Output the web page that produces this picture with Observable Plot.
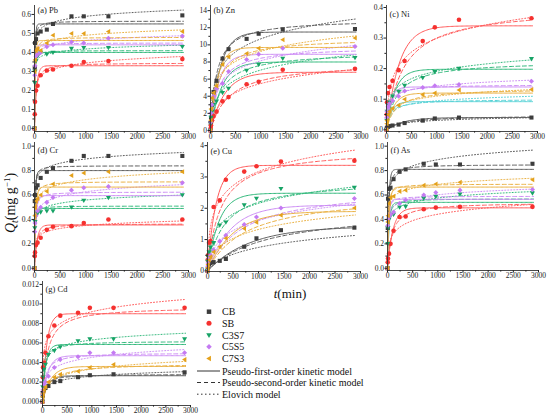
<!DOCTYPE html>
<html><head><meta charset="utf-8">
<script src="https://cdn.jsdelivr.net/npm/d3@7"></script>
<script src="https://cdn.jsdelivr.net/npm/@observablehq/plot@0.6"></script>
<style>
body{margin:0;background:#fff;}
#root{position:relative;width:550px;height:418px;overflow:hidden;background:#fff;font-family:"Liberation Serif",serif;}
#root svg{position:absolute;font-family:"Liberation Serif",serif;}
#root svg text{font-family:"Liberation Serif",serif;}
</style></head><body><div id="root"></div>
<script>
// ---------- data ----------
const times = [0, 5, 10, 30, 60, 120, 240, 360, 720, 960, 1440, 2880];
const seriesNames = ["CB", "SB", "C3S7", "C5S5", "C7S3"];
const xTicks = [0, 500, 1000, 1500, 2000, 2500, 3000];

// (a) Pb  measured Qt, rows: CB, SB, C3S7, C5S5, C7S3
const qPb = [
  [0, 0.32, 0.45, 0.47, 0.50, 0.51, 0.52, 0.55, 0.59, 0.59, 0.59, 0.595],
  [0, 0.075, 0.14, 0.20, 0.225, 0.28, 0.305, 0.31, 0.33, 0.35, 0.355, 0.365],
  [0, 0.24, 0.30, 0.355, 0.38, 0.40, 0.39, 0.40, 0.42, 0.425, 0.425, 0.43],
  [0, 0.28, 0.33, 0.38, 0.39, 0.40, 0.43, 0.44, 0.455, 0.45, 0.475, 0.486],
  [0, 0.30, 0.36, 0.41, 0.42, 0.41, 0.45, 0.49, 0.50, 0.50, 0.51, 0.51]
];
const pfoPb = [[0.55, 0.08], [0.33, 0.025], [0.40, 0.08], [0.44, 0.06], [0.463, 0.06]];
const psoPb = [[0.565, 0.35], [0.345, 0.116], [0.41, 0.49], [0.45, 0.37], [0.48, 0.26]];
const eloPb = [[6180, 32.4], [1.379, 30.96], [62270, 52.4], [8460, 42.55], [2889, 37.74]];

// (b) Zn
const qZn = [
  [0, 0.8, 1.5, 3.0, 4.5, 5.8, 8.4, 9.5, 10.7, 11.3, 11.8, 11.85],
  [0, 0.3, 0.6, 1.2, 1.7, 2.2, 3.4, 3.9, 5.4, 5.7, 7.1, 7.2],
  [0, 0.8, 1.5, 2.2, 3.0, 3.4, 4.4, 4.9, 7.0, 7.7, 8.4, 8.5],
  [0, 1.0, 2.0, 3.0, 4.0, 4.9, 5.5, 6.9, 8.3, 8.9, 9.6, 9.8],
  [0, 1.2, 2.5, 3.8, 4.4, 5.2, 7.7, 8.6, 9.0, 9.6, 10.6, 10.8]
];
const pfoZn = [[11.5, 0.0052], [6.8, 0.0035], [8.0, 0.0045], [8.9, 0.006], [9.7, 0.007]];
const psoZn = [[13.0, 6.4e-4], [8.0, 3.3e-4], [9.2, 5.2e-4], [9.8, 6.3e-4], [10.8, 6.2e-4]];
const eloZn = [[0.282, 0.4545], [0.0475, 0.625], [0.106, 0.588], [0.202, 0.588], [0.388, 0.588]];

// (c) Ni
const qNi = [
  [0, 0.004, 0.007, 0.010, 0.012, 0.014, 0.017, 0.022, 0.030, 0.037, 0.040, 0.040],
  [0, 0.05, 0.09, 0.12, 0.14, 0.16, 0.195, 0.225, 0.29, 0.335, 0.36, 0.365],
  [0, 0.03, 0.06, 0.08, 0.09, 0.11, 0.125, 0.145, 0.17, 0.19, 0.20, 0.232],
  [0, 0.04, 0.06, 0.075, 0.085, 0.095, 0.11, 0.127, 0.138, 0.144, 0.148, 0.159],
  [0, 0.02, 0.03, 0.05, 0.06, 0.07, 0.08, 0.10, 0.115, 0.12, 0.13, 0.132]
];
const pfoNi = [[0.04, 0.003], [0.34, 0.004], [0.198, 0.006], [0.14, 0.012], [0.12, 0.007]];
const psoNi = [[0.047, 0.06], [0.40, 0.0075], [0.225, 0.0207], [0.148, 0.11], [0.135, 0.04]];
const eloNi = [[0.000306, 117.6], [0.00641, 15.38], [0.0083, 28.57], [0.0517, 55.56], [0.0049, 50]];
// extra cyan model curves drawn in panel (c) without markers
const pfoNiExtra = [0.092, 0.01];
const psoNiExtra = [0.10, 0.107];
const eloNiExtra = [0.0121, 71.4];

// (d) Cr
const qCr = [
  [0, 0.55, 0.60, 0.66, 0.68, 0.74, 0.79, 0.82, 0.88, 0.92, 0.92, 0.92],
  [0, 0.10, 0.13, 0.19, 0.21, 0.25, 0.315, 0.34, 0.345, 0.37, 0.40, 0.40],
  [0, 0.33, 0.38, 0.43, 0.45, 0.46, 0.47, 0.47, 0.50, 0.555, 0.578, 0.60],
  [0, 0.30, 0.37, 0.43, 0.47, 0.50, 0.54, 0.58, 0.64, 0.66, 0.67, 0.70],
  [0, 0.43, 0.50, 0.55, 0.57, 0.60, 0.63, 0.69, 0.76, 0.78, 0.79, 0.79]
];
const pfoCr = [[0.80, 0.06], [0.355, 0.02], [0.49, 0.06], [0.595, 0.035], [0.665, 0.04]];
const psoCr = [[0.84, 0.24], [0.365, 0.091], [0.51, 0.33], [0.625, 0.16], [0.71, 0.14]];
const eloCr = [[2980, 20], [0.78, 28.57], [92.3, 26.3], [4.88, 18.18], [29.7, 18.18]];

// (e) Cu
const qCu = [
  [0, 0.05, 0.10, 0.20, 0.25, 0.28, 0.32, 0.38, 0.77, 1.04, 1.30, 1.38],
  [0, 0.35, 0.50, 0.90, 0.95, 2.04, 2.25, 2.91, 3.17, 3.34, 3.49, 3.52],
  [0, 0.30, 0.45, 0.60, 0.75, 0.90, 1.46, 1.55, 2.10, 2.31, 2.62, 2.66],
  [0, 0.15, 0.25, 0.40, 0.50, 0.67, 0.95, 1.14, 1.48, 1.72, 2.01, 2.31],
  [0, 0.10, 0.20, 0.35, 0.45, 0.60, 0.77, 1.04, 1.35, 1.55, 1.78, 2.01]
];
const pfoCu = [[1.42, 0.0012], [3.37, 0.006], [2.48, 0.0045], [2.1, 0.0022], [1.9, 0.002]];
const psoCu = [[2.0, 4.3e-4], [3.9, 0.00103], [2.9, 0.00107], [2.7, 5.4e-4], [2.5, 5.3e-4]];
const eloCu = [[0.0022, 2.5], [0.0845, 1.538], [0.0368, 2], [0.0121, 2], [0.00806, 2.222]];

// (f) As
const qAs = [
  [0, 0.33, 0.57, 0.65, 0.66, 0.73, 0.79, 0.81, 0.856, 0.85, 0.85, 0.856],
  [0, 0.05, 0.08, 0.12, 0.20, 0.307, 0.42, 0.424, 0.484, 0.497, 0.503, 0.503],
  [0, 0.20, 0.33, 0.40, 0.43, 0.44, 0.50, 0.505, 0.573, 0.587, 0.606, 0.614],
  [0, 0.35, 0.40, 0.42, 0.44, 0.46, 0.53, 0.56, 0.60, 0.62, 0.64, 0.645],
  [0, 0.38, 0.43, 0.53, 0.58, 0.59, 0.63, 0.64, 0.68, 0.69, 0.705, 0.725]
];
const pfoAs = [[0.81, 0.04], [0.495, 0.0092], [0.54, 0.03], [0.565, 0.04], [0.665, 0.03]];
const psoAs = [[0.85, 0.078], [0.54, 0.0216], [0.57, 0.117], [0.59, 0.21], [0.69, 0.145]];
const eloAs = [[13.2, 13.6], [0.0257, 13.16], [4.95, 20], [37.8, 22.7], [107.6, 21.3]];

// (g) Cd
const qCd = [
  [0, 0.0006, 0.0009, 0.0012, 0.0014, 0.0016, 0.0020, 0.0021, 0.0025, 0.0027, 0.0028, 0.0030],
  [0, 0.0025, 0.0035, 0.0040, 0.0050, 0.0067, 0.0078, 0.0088, 0.0091, 0.0096, 0.0096, 0.0096],
  [0, 0.0015, 0.0025, 0.0033, 0.0038, 0.0048, 0.0052, 0.0056, 0.0062, 0.0064, 0.0064, 0.0064],
  [0, 0.0008, 0.0012, 0.0018, 0.0020, 0.0026, 0.0035, 0.0043, 0.0046, 0.0050, 0.0050, 0.0050],
  [0, 0.0005, 0.0008, 0.0012, 0.0015, 0.0020, 0.0025, 0.0028, 0.0031, 0.0035, 0.0038, 0.0043]
];
const pfoCd = [[0.00265, 0.009], [0.009, 0.012], [0.00585, 0.015], [0.0047, 0.009], [0.0036, 0.006]];
const psoCd = [[0.0028, 6.5], [0.0097, 1.07], [0.0062, 4.0], [0.005, 3.27], [0.0039, 1.58]];
const eloCd = [[0.000163, 2273], [0.00287, 847], [0.01066, 1538], [0.000293, 1316], [6.64e-5, 1351]];

// ---------- styles ----------
const colors = ["#3d3d3d", "#f5312f", "#17a366", "#c47af2", "#e4a11b"];
const lineColors = ["#5a5a5a", "#ff5a5a", "#2fb87a", "#cc8cf5", "#eab040"];
const extraColor = "#56d2d6";
const FONT = '"Liberation Serif", serif';

const triDown = {draw(c, s) { const r = Math.sqrt(s) * 0.62; c.moveTo(-r, -r * 0.7); c.lineTo(r, -r * 0.7); c.lineTo(0, r * 1.0); c.closePath(); }};
const triLeft = {draw(c, s) { const r = Math.sqrt(s) * 0.62; c.moveTo(-r * 1.0, 0); c.lineTo(r * 0.7, -r); c.lineTo(r * 0.7, r); c.closePath(); }};
const diamond = {draw(c, s) { const r = Math.sqrt(s) * 0.62; c.moveTo(0, -r); c.lineTo(r, 0); c.lineTo(0, r); c.lineTo(-r, 0); c.closePath(); }};
const symbols = [d3.symbolSquare, d3.symbolCircle, triDown, diamond, triLeft];

// sampling grid for the fitted model curves
const modelT = d3.range(0, 20, 0.5).concat(d3.range(20, 200, 4), d3.range(200, 2901, 25));
const pfo = ([qe, k]) => t => qe * (1 - Math.exp(-k * t));
const pso = ([qe, k]) => t => qe * qe * k * t / (1 + qe * k * t);
const elo = ([a, b]) => t => Math.log(1 + a * b * t) / b;

const panels = [
  {label: "(a) Pb", q: qPb, p1: pfoPb, p2: psoPb, el: eloPb, y: [-0.016, 0.647], ticks: d3.range(0, 0.61, 0.1), minor: d3.range(0.05, 0.64, 0.1), fmt: ".1f", frame: [34, 188, 5, 131], ldy: 1},
  {label: "(b) Zn", q: qZn, p1: pfoZn, p2: psoZn, el: eloZn, y: [-0.12, 14.6], ticks: d3.range(0, 15, 2), minor: d3.range(1, 14.5, 2), fmt: "d", frame: [209.5, 360, 5, 131], ldy: 1},
  {label: "(c) Ni", q: qNi, p1: pfoNi, p2: psoNi, el: eloNi, y: [-0.0056, 0.4065], ticks: d3.range(0, 0.41, 0.1), minor: d3.range(0.05, 0.4, 0.1), fmt: ".1f", frame: [386, 537, 5, 131], ldy: 5, extra: true},
  {label: "(d) Cr", q: qCr, p1: pfoCr, p2: psoCr, el: eloCr, y: [-0.018, 1.03], ticks: d3.range(0, 1.01, 0.2), minor: d3.range(0.1, 1.0, 0.2), fmt: ".1f", frame: [34, 188, 142, 270], ldy: 4},
  {label: "(e) Cu", q: qCu, p1: pfoCu, p2: psoCu, el: eloCu, y: [-0.02, 4.1], ticks: d3.range(0, 4.1, 1), minor: d3.range(0.5, 4, 1), fmt: "d", frame: [207, 360, 142, 271], ldy: 5},
  {label: "(f) As", q: qAs, p1: pfoAs, p2: psoAs, el: eloAs, y: [-0.018, 1.03], ticks: d3.range(0, 1.01, 0.2), minor: d3.range(0.1, 1.0, 0.2), fmt: ".1f", frame: [387, 538, 142, 270], ldy: 4},
  {label: "(g) Cd", q: qCd, p1: pfoCd, p2: psoCd, el: eloCd, y: [-0.0004, 0.0123], ticks: d3.range(0, 0.01201, 0.002), minor: d3.range(0.001, 0.012, 0.002), fmt: ".3f", frame: [42, 190, 281, 405], ldy: 4}
];

const root = document.getElementById("root");

function modelLines(fns, col) {
  return [
    Plot.line(modelT, {x: t => t, y: fns[0], stroke: col, strokeWidth: 1, clip: true}),
    Plot.line(modelT, {x: t => t, y: fns[1], stroke: col, strokeWidth: 1, strokeDasharray: "4,2.5", clip: true}),
    Plot.line(modelT, {x: t => t, y: fns[2], stroke: col, strokeWidth: 1, strokeDasharray: "1,2", clip: true})
  ];
}

panels.forEach(cfg => {
  const [L, R, T, B] = cfg.frame;
  const mL = 30, mR = 10, mT = 3, mB = 16;
  const marks = [];
  if (cfg.extra) marks.push(...modelLines([pfo(pfoNiExtra), pso(psoNiExtra), elo(eloNiExtra)], extraColor));
  cfg.q.forEach((vals, i) => {
    marks.push(...modelLines([pfo(cfg.p1[i]), pso(cfg.p2[i]), elo(cfg.el[i])], lineColors[i]));
  });
  cfg.q.forEach((vals, i) => {
    marks.push(Plot.dot(times.map((t, j) => [t, vals[j]]), {x: "0", y: "1", symbol: symbols[i], r: 2.3, fill: colors[i], stroke: "none"}));
  });
  marks.push(
    Plot.ruleX([0], {y1: cfg.y[0], y2: cfg.y[1], stroke: "#333", strokeWidth: 0.9}),
    Plot.ruleY([cfg.y[0]], {x1: 0, x2: 3000, stroke: "#333", strokeWidth: 0.9}),
    Plot.axisX(xTicks, {anchor: "bottom", tickSize: 2.5, tickPadding: 0, fontSize: 7.5, label: null, tickFormat: d => String(d), fontFamily: FONT}),
    Plot.axisX(d3.range(250, 3000, 500), {anchor: "bottom", tickSize: 1.6, tickFormat: () => "", label: null}),
    Plot.axisY(cfg.ticks, {anchor: "left", tickSize: 2.5, tickPadding: 1, fontSize: 7.5, label: null, tickFormat: d3.format(cfg.fmt), fontFamily: FONT}),
    Plot.axisY(cfg.minor, {anchor: "left", tickSize: 1.6, tickFormat: () => "", label: null}),
    Plot.text([cfg.label], {frameAnchor: "top-left", dx: 3, dy: cfg.ldy, fontSize: 8.5, textAnchor: "start", lineAnchor: "top", fill: "#222", fontFamily: FONT})
  );
  const svg = Plot.plot({
    width: R - L + mL + mR,
    height: B - T + mT + mB,
    marginLeft: mL, marginRight: mR, marginTop: mT, marginBottom: mB,
    x: {domain: [0, 3000]},
    y: {domain: cfg.y},
    style: {fontFamily: FONT, fontSize: "8px", color: "#222", background: "transparent", overflow: "visible"},
    marks
  });
  svg.style.position = "absolute";
  svg.style.left = (L - mL) + "px";
  svg.style.top = (T - mT) + "px";
  root.appendChild(svg);
});

// ---------- axis titles and legend ----------
const ov = d3.select(root).append("svg")
  .attr("width", 550).attr("height", 418)
  .style("left", "0px").style("top", "0px")
  .style("font-family", FONT).style("pointer-events", "none");

const yl = ov.append("text").attr("transform", "translate(15,203) rotate(-90)")
  .attr("text-anchor", "middle").attr("font-size", 14).attr("fill", "#111").attr("font-family", FONT);
yl.append("tspan").attr("font-style", "italic").text("Q");
yl.append("tspan").attr("font-style", "italic").attr("font-size", 10).attr("dy", 3).text("t");
yl.append("tspan").attr("dy", -3).text("(mg g");
yl.append("tspan").attr("font-size", 9).attr("dy", -5).text("−1");
yl.append("tspan").attr("dy", 5).text(")");

const xl = ov.append("text").attr("x", 290).attr("y", 298)
  .attr("text-anchor", "middle").attr("font-size", 13).attr("fill", "#111").attr("font-family", FONT);
xl.append("tspan").attr("font-style", "italic").text("t");
xl.append("tspan").text("(min)");

const legRows = [311.7, 323.3, 335.2, 346.8, 358.5];
seriesNames.forEach((name, i) => {
  ov.append("path").attr("d", d3.symbol(symbols[i], 20)())
    .attr("transform", `translate(209,${legRows[i]})`).attr("fill", colors[i]);
  ov.append("text").attr("x", 222).attr("y", legRows[i] + 3.5).attr("font-size", 10).attr("fill", "#111").attr("font-family", FONT).text(name);
});
const lineRows = [371, 382.5, 394.2];
const lineNames = ["Pseudo-first-order kinetic model", "Pseudo-second-order kinetic model", "Elovich model"];
const dashes = [null, "4,3", "1.5,2.5"];
lineNames.forEach((name, i) => {
  ov.append("line").attr("x1", 197).attr("x2", 220).attr("y1", lineRows[i]).attr("y2", lineRows[i])
    .attr("stroke", "#333").attr("stroke-width", 1).attr("stroke-dasharray", dashes[i]);
  ov.append("text").attr("x", 222).attr("y", lineRows[i] + 3.5).attr("font-size", 10).attr("fill", "#111").attr("font-family", FONT).text(name);
});
</script>
</body></html>
